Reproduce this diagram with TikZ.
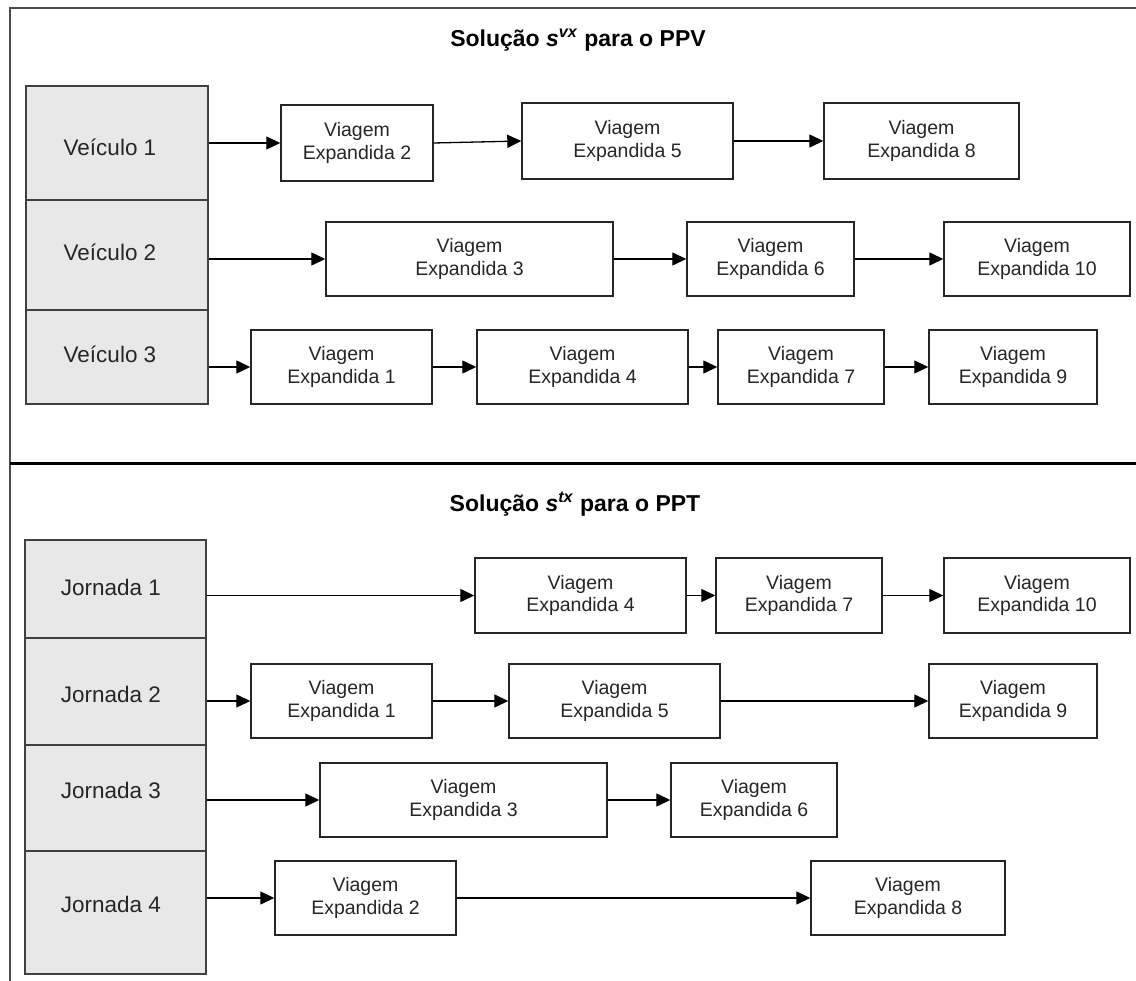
\documentclass[tikz,border=0pt]{standalone}
\usepackage{fontspec}
\setmainfont{Liberation Sans}
\usetikzlibrary{arrows.meta}

% one expanded trip box: name, left, top, right, bottom, number
\newcommand\tripbox[6]{%
  \node[trip, minimum width={#4pt-#2pt}, minimum height={#5pt-#3pt}]
    (#1) at ({(#2+#4)/2},{(#3+#5)/2}) {Viagem\\Expandida #6};}

\begin{document}
\begin{tikzpicture}[x=1pt,y=-1pt,
  trip/.style={draw=black!85, line width=1.4pt, fill=white, inner sep=0pt,
    align=center, text=black!85, font=\fontsize{19.5}{22.5}\selectfont},
  rowbox/.style={draw=black!75, line width=1.4pt, fill=black!9, inner sep=0pt},
  rowlabel/.style={anchor=base, text=black!85, font=\fontsize{22.5}{25}\selectfont},
  heading/.style={anchor=base, font=\bfseries\fontsize{23}{26}\selectfont},
  link/.style={draw=black, line width=1.3pt, -{Triangle[length=14pt,width=13pt]}}]

\useasboundingbox (0,0) rectangle (1136,981);

% frame and separator between the two solutions
\draw[line width=2pt, draw=black!70] (1136,8) -- (10,8) -- (10,981);
\draw[line width=3pt] (10,464) -- (1136,464);

% ---------- vehicle schedule (PPV) ----------
\node[heading] (t1) at (578,47) {Solução \textit{s}\textsuperscript{\textit{vx}} para o PPV};

\node[rowbox, minimum width=182pt, minimum height=114pt] (veh1) at (117,143) {};
\node[rowbox, minimum width=182pt, minimum height=110pt] (veh2) at (117,255) {};
\node[rowbox, minimum width=182pt, minimum height=94pt]  (veh3) at (117,357) {};
\node[rowlabel] (lv1) at (110,156) {Veículo 1};
\node[rowlabel] (lv2) at (110,261) {Veículo 2};
\node[rowlabel] (lv3) at (110,363) {Veículo 3};

\tripbox{a2}{281}{105}{433}{181}{2}
\tripbox{a5}{522}{103}{733}{179}{5}
\tripbox{a8}{824}{103}{1019}{179}{8}
\tripbox{a3}{326}{222}{613}{296}{3}
\tripbox{a6}{687}{222}{854}{296}{6}
\tripbox{a10}{944}{222}{1130}{296}{10}
\tripbox{a1}{251}{330}{432}{404}{1}
\tripbox{a4}{477}{330}{688}{404}{4}
\tripbox{a7}{718}{330}{884}{404}{7}
\tripbox{a9}{929}{330}{1097}{404}{9}

\draw[link] (veh1.east |- a2.west) -- (a2.west);
\draw[link] (a2.east) -- (a5.west);
\draw[link] (a5.east) -- (a8.west);
\draw[link] (veh2.east |- a3.west) -- (a3.west);
\draw[link] (a3.east) -- (a6.west);
\draw[link] (a6.east) -- (a10.west);
\draw[link] (veh3.east |- a1.west) -- (a1.west);
\draw[link] (a1.east) -- (a4.west);
\draw[link] (a4.east) -- (a7.west);
\draw[link] (a7.east) -- (a9.west);

% ---------- crew schedule (PPT) ----------
\node[heading] (t2) at (575,512) {Solução \textit{s}\textsuperscript{\textit{tx}} para o PPT};

\node[rowbox, minimum width=181pt, minimum height=98pt]  (jor1) at (115.5,589) {};
\node[rowbox, minimum width=181pt, minimum height=107pt] (jor2) at (115.5,691.5) {};
\node[rowbox, minimum width=181pt, minimum height=106pt] (jor3) at (115.5,798) {};
\node[rowbox, minimum width=181pt, minimum height=123pt] (jor4) at (115.5,912.5) {};
\node[rowlabel] (lj1) at (111,595) {Jornada 1};
\node[rowlabel] (lj2) at (111,702) {Jornada 2};
\node[rowlabel] (lj3) at (111,798) {Jornada 3};
\node[rowlabel] (lj4) at (111,912) {Jornada 4};

\tripbox{b4}{475}{558}{686}{633}{4}
\tripbox{b7}{716}{558}{882}{633}{7}
\tripbox{b10}{944}{558}{1130}{633}{10}
\tripbox{b1}{251}{664}{432}{738}{1}
\tripbox{b5}{509}{664}{720}{738}{5}
\tripbox{b9}{929}{664}{1097}{738}{9}
\tripbox{b3}{320}{763}{607}{837}{3}
\tripbox{b6}{671}{763}{837}{837}{6}
\tripbox{b2}{275}{861}{456}{935}{2}
\tripbox{b8}{811}{861}{1005}{935}{8}

\draw[link] (jor1.east |- b4.west) -- (b4.west);
\draw[link] (b4.east) -- (b7.west);
\draw[link] (b7.east) -- (b10.west);
\draw[link] (jor2.east |- b1.west) -- (b1.west);
\draw[link] (b1.east) -- (b5.west);
\draw[link] (b5.east) -- (b9.west);
\draw[link] (jor3.east |- b3.west) -- (b3.west);
\draw[link] (b3.east) -- (b6.west);
\draw[link] (jor4.east |- b2.west) -- (b2.west);
\draw[link] (b2.east) -- (b8.west);
\end{tikzpicture}
\end{document}
